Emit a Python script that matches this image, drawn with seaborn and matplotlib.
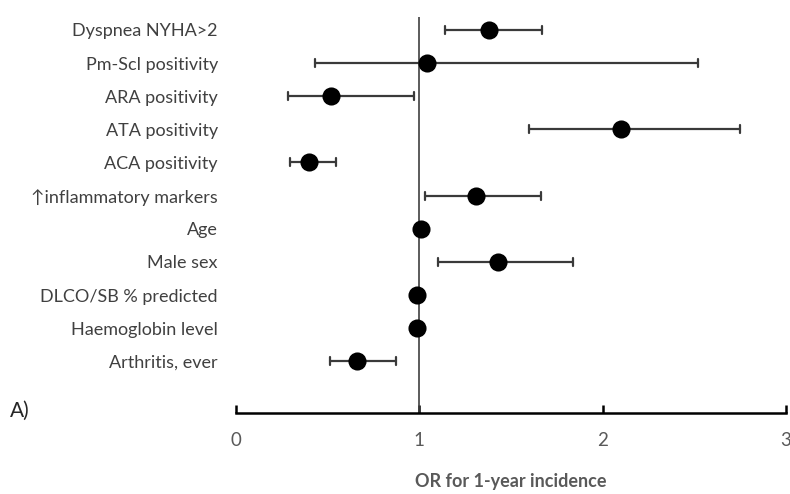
import numpy as np
import pandas as pd
import matplotlib
matplotlib.use("Agg")
import matplotlib.pyplot as plt
import seaborn as sns

labels = [
    "Dyspnea NYHA>2", "Pm-Scl positivity", "ARA positivity", "ATA positivity",
    "ACA positivity", "↑inflammatory markers", "Age", "Male sex",
    "DLCO/SB % predicted", "Haemoglobin level", "Arthritis, ever",
]
or_est = [1.38, 1.04, 0.52, 2.10, 0.40, 1.31, 1.01, 1.43, 0.985, 0.985, 0.66]
ci_lo = [1.14, 0.43, 0.285, 1.60, 0.295, 1.03, 1.00, 1.10, 0.98, 0.98, 0.51]
ci_hi = [1.67, 2.52, 0.97, 2.75, 0.545, 1.665, 1.02, 1.84, 0.99, 0.99, 0.87]
x_ticks = [0, 1, 2, 3]

sns.set_theme(style="white")
plt.rcParams["font.family"] = ["Lato", "DejaVu Sans"]

# long form: lo / est / hi per row -> median is the OR, full range is the CI
df = pd.DataFrame({
    "factor": labels * 3,
    "value": ci_lo + or_est + ci_hi,
})

fig = plt.figure(figsize=(7.9, 4.94), dpi=100)
ax = fig.add_axes([236 / 790, 1 - 413 / 494, 550 / 790, 396 / 494])

ax.axvline(1, color="#404040", linewidth=1.2, zorder=1)

sns.pointplot(
    data=df, x="value", y="factor", order=labels,
    estimator="median", errorbar=("pi", 100),
    linestyle="none", markers="o", color="black",
    capsize=0.24, markersize=11,
    err_kws={"color": "#3a3a3a", "linewidth": 1.6},
    ax=ax,
)
# keep the dots above the caps (tiny CIs would otherwise show through)
for ln in ax.lines:
    if ln.get_marker() == "o":
        ln.set_zorder(5)

ax.set_xlim(0, 3)
ax.set_ylim(11.56, -0.39)
ax.set_xticks(x_ticks)
ax.set_xticklabels([str(t) for t in x_ticks])
for s in ["left", "right", "top"]:
    ax.spines[s].set_visible(False)
ax.spines["bottom"].set_color("black")
ax.spines["bottom"].set_linewidth(1.8)
ax.tick_params(axis="x", bottom=True, direction="in", length=6, width=1.8,
               color="black", pad=14, labelsize=13.5, labelcolor="#595959")
ax.tick_params(axis="y", left=False, length=0, pad=13, labelsize=13,
               labelcolor="#404040")
ax.set_ylabel("")
ax.set_xlabel("OR for 1-year incidence", fontsize=13, fontweight="bold",
              color="#595959", labelpad=17)

fig.text(10 / 790, 1 - 411 / 494, "A)", fontsize=15, color="#262626",
         va="center", ha="left")

fig.savefig("out.png", dpi=100)
